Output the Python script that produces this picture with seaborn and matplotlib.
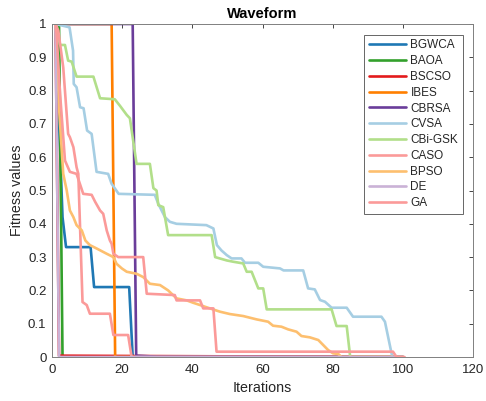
import numpy as np
import pandas as pd
import matplotlib
matplotlib.use("Agg")
import matplotlib.pyplot as plt
import seaborn as sns
from matplotlib.lines import Line2D

algorithms = ["BGWCA", "BAOA", "BSCSO", "IBES", "CBRSA", "CVSA",
              "CBi-GSK", "CASO", "BPSO", "DE", "GA"]

bgwca_x = [1, 3, 4, 11, 12, 22, 23, 100]
bgwca_y = [1.0, 0.42, 0.33, 0.33, 0.21, 0.21, 0.0, 0.0]

baoa_x = [1, 2, 3, 100]
baoa_y = [1.0, 1.0, 0.0, 0.0]

bscso_x = [1, 2, 23, 100]
bscso_y = [1.0, 0.004, 0.003, 0.0]

ibes_x = [1, 17, 18, 100]
ibes_y = [1.0, 1.0, 0.0, 0.0]

cbrsa_x = [1, 23, 24, 30, 100]
cbrsa_y = [1.0, 1.0, 0.004, 0.001, 0.0]

cvsa_x = [1, 5, 6, 6.2, 7, 8, 9, 10, 11.3, 12.7, 16, 17, 19, 29.3, 30.3, 32.2,
          33.6, 35.5, 44, 46, 47, 48.3, 49.8, 51.2, 54, 55, 58.8, 60.2, 65, 66,
          71.6, 73, 74.9, 76.4, 77.8, 79.7, 84, 85.8, 93.9, 94.9, 97, 100]
cvsa_y = [1.0, 0.99, 0.92, 0.82, 0.81, 0.75, 0.747, 0.68, 0.67, 0.556, 0.55, 0.52,
          0.49, 0.487, 0.46, 0.42, 0.406, 0.40, 0.396, 0.386, 0.336, 0.32, 0.306,
          0.296, 0.296, 0.283, 0.283, 0.271, 0.266, 0.26, 0.26, 0.206, 0.203,
          0.171, 0.166, 0.148, 0.148, 0.121, 0.121, 0.106, 0.0, 0.0]

cbigsk_x = [1, 2.3, 3.7, 4.6, 5.6, 7, 11.8, 13.7, 17.9, 19.4, 21.3, 22.2, 24.1,
            27.9, 28.9, 29.8, 30.3, 31.7, 33.1, 45.5, 46.5, 49.8, 51.7, 54.5,
            55.5, 56.9, 58.8, 60.2, 61.2, 79.7, 81.1, 84, 85, 100]
cbigsk_y = [1.0, 0.937, 0.937, 0.89, 0.887, 0.842, 0.842, 0.777, 0.774, 0.754,
            0.727, 0.717, 0.58, 0.58, 0.507, 0.50, 0.456, 0.45, 0.366, 0.366,
            0.30, 0.29, 0.286, 0.281, 0.256, 0.256, 0.206, 0.206, 0.143, 0.143,
            0.093, 0.093, 0.0, 0.0]

caso_x = [1, 1.8, 3.2, 4.6, 5.1, 6.1, 7, 7.5, 8.7, 9.9, 10.8, 16.5, 17.5, 21.7,
          22.7, 100]
caso_y = [1.0, 0.98, 0.87, 0.67, 0.66, 0.63, 0.57, 0.55, 0.165, 0.156, 0.13,
          0.13, 0.066, 0.066, 0.0, 0.0]

bpso_x = [1, 2, 3.2, 4.2, 5.1, 6.1, 7, 8.5, 9.5, 10.8, 12.7, 15.6, 17.5, 18.4,
          19.9, 21.3, 24.1, 26, 27.9, 30.8, 33.1, 35.5, 38.4, 40.2, 42.2, 45,
          47.9, 50.7, 54.5, 58.3, 61.6, 63, 65.4, 67.3, 69.7, 71.1, 73.5, 75.9,
          77.3, 78.7, 80.1, 81.6, 82.5, 97]
bpso_y = [1.0, 0.75, 0.55, 0.50, 0.44, 0.42, 0.396, 0.38, 0.35, 0.336, 0.326,
          0.31, 0.30, 0.28, 0.266, 0.256, 0.25, 0.24, 0.22, 0.216, 0.20, 0.176,
          0.17, 0.163, 0.156, 0.146, 0.136, 0.129, 0.123, 0.113, 0.106, 0.094,
          0.091, 0.083, 0.076, 0.063, 0.059, 0.051, 0.036, 0.021, 0.011, 0.009,
          0.0, 0.0]

de_x = [1, 2, 100]
de_y = [1.0, 0.0, 0.0]

ga_x = [1, 1.3, 2.3, 3.7, 5.1, 7, 8.9, 11.3, 12.3, 13.7, 14.6, 15.6, 16.5, 17,
        17.5, 18.9, 26, 27, 35, 35.5, 42.2, 43.1, 46, 46.9, 97.2, 98.2, 100.5]
ga_y = [1.0, 0.97, 0.79, 0.59, 0.556, 0.55, 0.49, 0.487, 0.466, 0.44, 0.43,
        0.38, 0.35, 0.34, 0.31, 0.30, 0.30, 0.19, 0.186, 0.17, 0.17, 0.146,
        0.146, 0.016, 0.016, 0.0, 0.0]

series = {
    "BGWCA": (bgwca_x, bgwca_y), "BAOA": (baoa_x, baoa_y),
    "BSCSO": (bscso_x, bscso_y), "IBES": (ibes_x, ibes_y),
    "CBRSA": (cbrsa_x, cbrsa_y), "CVSA": (cvsa_x, cvsa_y),
    "CBi-GSK": (cbigsk_x, cbigsk_y), "CASO": (caso_x, caso_y),
    "BPSO": (bpso_x, bpso_y), "DE": (de_x, de_y), "GA": (ga_x, ga_y),
}

colors = ["#1f78b4", "#33a02c", "#e31a1c", "#ff7f00", "#6a3d9a", "#a6cee3",
          "#b2df8a", "#fb9a99", "#fdbf6f", "#cab2d6", "#fb9a99"]

x_ticks = [0, 20, 40, 60, 80, 100, 120]
y_ticks = [0, 0.1, 0.2, 0.3, 0.4, 0.5, 0.6, 0.7, 0.8, 0.9, 1]
y_tick_labels = ["0", "0.1", "0.2", "0.3", "0.4", "0.5", "0.6", "0.7", "0.8", "0.9", "1"]

frames = []
for name in algorithms:
    xs, ys = series[name]
    frames.append(pd.DataFrame({"Iterations": xs, "Fitness": ys, "Algorithm": name}))
df = pd.concat(frames, ignore_index=True)

sns.set_style("white")
plt.rcParams["font.family"] = ["Liberation Sans", "DejaVu Sans"]

fig = plt.figure(figsize=(4.86, 4.01), dpi=100)
ax = fig.add_axes([52 / 486, 1 - 357 / 401, 421 / 486, 333 / 401])

palette = dict(zip(algorithms, colors))
sns.lineplot(data=df, x="Iterations", y="Fitness", hue="Algorithm",
             hue_order=algorithms, palette=palette, estimator=None, sort=False,
             linewidth=1.9, ax=ax, legend=False)

ax.set_xlim(0, 120)
ax.set_ylim(0, 1)
ax.set_xticks(x_ticks)
ax.set_xticklabels([str(t) for t in x_ticks])
ax.set_yticks(y_ticks)
ax.set_yticklabels(y_tick_labels)
ax.tick_params(direction="in", length=3, width=0.6, colors="#262626",
               labelsize=9.5, top=True, right=True, labeltop=False, labelright=False)
ax.tick_params(axis="x", pad=5)
ax.tick_params(axis="y", pad=4)
for sp in ax.spines.values():
    sp.set_color("#808080")
    sp.set_linewidth(0.7)
    sp.set_visible(True)

ax.set_xlabel("Iterations", fontsize=10.3, color="#262626", labelpad=4)
ax.set_ylabel("Fitness values", fontsize=10.3, color="#262626", labelpad=3)
ax.set_title("Waveform", fontsize=10.5, fontweight="bold", color="black", pad=4)

handles = [Line2D([0], [0], color=c, lw=1.9) for c in colors]
leg = ax.legend(handles, algorithms, loc="upper right",
                bbox_to_anchor=(0.9755, 0.967), borderaxespad=0,
                fontsize=8.5, frameon=True, fancybox=False, framealpha=1,
                handlelength=3.2, handletextpad=0.35, labelspacing=0.32,
                borderpad=0.38)
leg.get_frame().set_edgecolor("#666666")
leg.get_frame().set_linewidth(0.7)

fig.savefig("out.png", dpi=100)
